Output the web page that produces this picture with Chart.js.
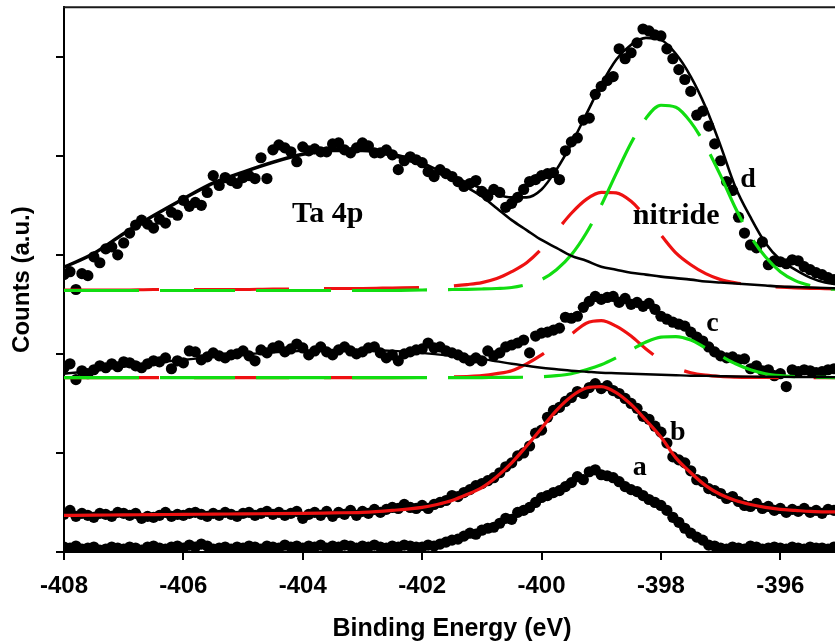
<!DOCTYPE html>
<html>
<head>
<meta charset="utf-8">
<script src="https://cdn.jsdelivr.net/npm/chart.js@4/dist/chart.umd.min.js"></script>
<style>
  html, body { margin: 0; padding: 0; background: #fff; overflow: hidden; }
  canvas { display: block; }
</style>
</head>
<body>
<canvas id="xps" width="850" height="644"></canvas>
<script>
// N 1s spectra (a–d): measured counts on a 0.1 eV grid
const energy = [
  -408.0,-407.9,-407.8,-407.7,-407.6,-407.5,-407.4,-407.3,-407.2,-407.1,
  -407.0,-406.9,-406.8,-406.7,-406.6,-406.5,-406.4,-406.3,-406.2,-406.1,
  -406.0,-405.9,-405.8,-405.7,-405.6,-405.5,-405.4,-405.3,-405.2,-405.1,
  -405.0,-404.9,-404.8,-404.7,-404.6,-404.5,-404.4,-404.3,-404.2,-404.1,
  -404.0,-403.9,-403.8,-403.7,-403.6,-403.5,-403.4,-403.3,-403.2,-403.1,
  -403.0,-402.9,-402.8,-402.7,-402.6,-402.5,-402.4,-402.3,-402.2,-402.1,
  -402.0,-401.9,-401.8,-401.7,-401.6,-401.5,-401.4,-401.3,-401.2,-401.1,
  -401.0,-400.9,-400.8,-400.7,-400.6,-400.5,-400.4,-400.3,-400.2,-400.1,
  -400.0,-399.9,-399.8,-399.7,-399.6,-399.5,-399.4,-399.3,-399.2,-399.1,
  -399.0,-398.9,-398.8,-398.7,-398.6,-398.5,-398.4,-398.3,-398.2,-398.1,
  -398.0,-397.9,-397.8,-397.7,-397.6,-397.5,-397.4,-397.3,-397.2,-397.1,
  -397.0,-396.9,-396.8,-396.7,-396.6,-396.5,-396.4,-396.3,-396.2,-396.1,
  -396.0,-395.9,-395.8,-395.7,-395.6,-395.5,-395.4,-395.3,-395.2,-395.1
];

const countsA = [
  0.05,0.04,0.06,0.03,0.04,0.05,0.02,0.03,0.05,0.04,
  0.03,0.05,0.04,0.02,0.05,0.06,0.04,0.03,0.05,0.06,
  0.04,0.07,0.05,0.08,0.06,0.03,0.04,0.05,0.03,0.05,
  0.04,0.06,0.05,0.03,0.06,0.05,0.04,0.07,0.05,0.06,
  0.04,0.06,0.05,0.07,0.04,0.06,0.05,0.07,0.06,0.04,
  0.06,0.05,0.07,0.05,0.04,0.06,0.05,0.07,0.06,0.05,
  0.05,0.07,0.06,0.08,0.10,0.12,0.13,0.16,0.19,0.18,
  0.22,0.24,0.25,0.29,0.34,0.33,0.40,0.42,0.45,0.50,
  0.55,0.57,0.60,0.62,0.66,0.70,0.76,0.73,0.81,0.83,
  0.78,0.77,0.75,0.71,0.66,0.63,0.61,0.57,0.53,0.50,
  0.47,0.42,0.35,0.30,0.24,0.19,0.15,0.12,0.07,0.06,
  0.04,0.03,0.05,0.04,0.03,0.06,0.05,0.03,0.04,0.05,
  0.04,0.03,0.05,0.04,0.03,0.05,0.04,0.04,0.03,0.05
];

const countsB = [
  0.38,0.42,0.36,0.39,0.37,0.35,0.39,0.38,0.36,0.40,
  0.39,0.37,0.39,0.34,0.36,0.35,0.37,0.40,0.36,0.38,
  0.37,0.39,0.40,0.38,0.36,0.39,0.37,0.40,0.38,0.36,
  0.39,0.40,0.37,0.39,0.41,0.38,0.40,0.37,0.39,0.41,
  0.34,0.38,0.40,0.37,0.41,0.36,0.40,0.38,0.42,0.37,
  0.41,0.39,0.43,0.40,0.43,0.45,0.44,0.48,0.45,0.44,
  0.47,0.44,0.48,0.50,0.52,0.57,0.56,0.60,0.63,0.67,
  0.69,0.72,0.75,0.80,0.86,0.90,0.97,1.00,1.07,1.20,
  1.23,1.36,1.43,1.46,1.52,1.56,1.62,1.60,1.66,1.70,
  1.65,1.68,1.63,1.60,1.55,1.50,1.45,1.37,1.34,1.27,
  1.21,1.10,0.96,0.93,0.90,0.82,0.73,0.71,0.64,0.62,
  0.59,0.54,0.56,0.51,0.47,0.46,0.49,0.44,0.46,0.42,
  0.44,0.40,0.43,0.41,0.44,0.40,0.42,0.39,0.43,0.42
];

const countsC = [
  1.86,1.90,1.74,1.83,1.80,1.84,1.88,1.86,1.90,1.87,
  1.92,1.91,1.88,1.86,1.90,1.93,1.92,1.96,1.85,1.93,
  1.91,2.03,2.02,1.94,1.97,2.01,1.98,1.96,1.99,2.00,
  2.03,1.98,1.93,2.04,2.01,2.06,2.08,2.02,2.05,2.10,
  2.06,1.99,2.03,2.07,2.02,1.99,2.04,2.07,2.03,2.00,
  2.02,2.06,2.07,2.01,1.96,1.99,1.93,2.00,2.02,2.04,
  2.05,2.11,2.06,2.07,2.03,2.01,1.99,1.96,1.93,1.96,
  1.93,2.03,1.98,2.01,2.07,2.09,2.11,2.14,2.01,2.18,
  2.21,2.22,2.24,2.26,2.37,2.36,2.38,2.47,2.53,2.58,
  2.55,2.57,2.58,2.52,2.56,2.50,2.52,2.48,2.51,2.45,
  2.38,2.35,2.32,2.30,2.28,2.22,2.17,2.13,2.07,2.02,
  1.98,1.96,1.97,1.94,1.95,1.85,1.88,1.83,1.84,1.78,
  1.80,1.67,1.84,1.82,1.84,1.83,1.81,1.82,1.84,1.85
];

const countsD = [
  2.80,2.83,2.65,2.81,2.79,2.98,2.92,3.06,3.08,3.00,
  3.12,3.22,3.30,3.35,3.31,3.27,3.36,3.32,3.43,3.40,
  3.55,3.49,3.53,3.50,3.63,3.80,3.70,3.78,3.75,3.72,
  3.78,3.80,3.77,3.98,3.77,4.06,4.11,4.08,4.04,3.94,
  4.09,4.05,4.07,4.04,4.04,4.12,4.13,4.06,4.03,4.08,
  4.13,4.10,4.03,4.03,4.06,4.01,3.86,3.95,3.99,3.96,
  3.93,3.84,3.79,3.86,3.82,3.79,3.74,3.69,3.72,3.75,
  3.64,3.59,3.66,3.63,3.48,3.52,3.58,3.66,3.74,3.76,
  3.80,3.82,3.83,3.76,4.05,4.14,4.18,4.36,4.38,4.62,
  4.70,4.76,4.80,5.08,4.98,5.04,5.14,5.28,5.26,5.22,
  5.21,5.08,4.98,4.87,4.77,4.65,4.41,4.45,4.30,4.12,
  3.95,3.74,3.65,3.38,3.22,3.10,3.07,3.13,2.90,2.94,
  2.93,2.91,2.95,2.94,2.88,2.85,2.82,2.80,2.77,2.75
];

// Fitted curves, sampled on a coarser grid
const fitEnergy = [
  -408,-407.5,-407,-406.5,-406,-405.5,-405,-404.5,-404,-403.5,-403,-402.5,
  -402,-401.75,-401.5,-401.25,-401,-400.75,-400.5,-400.25,-400,-399.75,
  -399.5,-399.25,-399,-398.75,-398.5,-398.25,-398,-397.75,-397.5,-397.25,
  -397,-396.75,-396.5,-396.25,-396,-395.75,-395.5,-395.25,-395
];

const fitB = [
  0.37,0.372,0.375,0.377,0.38,0.382,0.385,0.387,0.39,0.395,0.40,0.42,
  0.45,0.48,0.52,0.58,0.65,0.76,0.90,1.07,1.25,1.43,
  1.57,1.655,1.67,1.61,1.49,1.33,1.16,0.95,0.80,0.67,
  0.58,0.52,0.48,0.45,0.43,0.42,0.41,0.405,0.405
];

const taC = [
  1.80,1.83,1.87,1.91,1.94,1.97,1.995,2.015,2.03,2.04,2.04,2.03,
  2.01,1.995,1.98,1.965,1.95,1.925,1.90,1.88,1.86,1.845,
  1.83,1.82,1.81,1.805,1.80,1.795,1.79,1.785,1.78,1.778,
  1.775,1.772,1.77,1.769,1.768,1.767,1.766,1.765,1.765
];
const nitrideC = [
  1.76,1.76,1.76,1.76,1.76,1.76,1.76,1.76,1.76,1.76,1.76,1.76,
  1.762,1.764,1.767,1.772,1.78,1.80,1.83,1.90,1.99,2.10,
  2.20,2.31,2.335,2.28,2.18,2.05,1.94,1.86,1.81,1.785,
  1.772,1.766,1.763,1.762,1.761,1.76,1.76,1.76,1.76
];
const secondC = [
  1.76,1.76,1.76,1.76,1.76,1.76,1.76,1.76,1.76,1.76,1.76,1.76,
  1.76,1.76,1.76,1.76,1.761,1.762,1.763,1.765,1.77,1.78,
  1.80,1.84,1.89,1.96,2.04,2.12,2.17,2.175,2.14,2.06,
  1.98,1.90,1.84,1.80,1.78,1.77,1.765,1.762,1.761
];

const taD = [
  2.87,3.01,3.21,3.39,3.56,3.72,3.83,3.93,4.01,4.05,4.05,4.00,
  3.90,3.83,3.76,3.68,3.59,3.47,3.35,3.25,3.15,3.07,
  2.99,2.94,2.88,2.85,2.82,2.80,2.78,2.765,2.75,2.73,
  2.72,2.71,2.70,2.69,2.68,2.675,2.67,2.665,2.66
];
const envelopeD = [
  2.88,3.02,3.22,3.40,3.57,3.73,3.84,3.94,4.02,4.065,4.07,4.02,
  3.93,3.86,3.80,3.73,3.67,3.61,3.58,3.58,3.66,3.86,
  4.12,4.42,4.72,4.97,5.12,5.19,5.17,5.03,4.80,4.49,
  4.10,3.68,3.38,3.12,2.95,2.85,2.77,2.72,2.70
];
const nitrideD = [
  2.645,2.645,2.645,2.65,2.65,2.65,2.65,2.655,2.655,2.66,2.66,2.665,
  2.67,2.676,2.686,2.70,2.72,2.76,2.83,2.92,3.06,3.24,
  3.42,3.56,3.63,3.625,3.54,3.38,3.20,3.02,2.90,2.81,
  2.75,2.718,2.698,2.684,2.674,2.667,2.662,2.659,2.656
];
const secondD = [
  2.64,2.64,2.64,2.64,2.64,2.64,2.64,2.64,2.64,2.64,2.64,2.64,
  2.645,2.647,2.65,2.652,2.655,2.66,2.67,2.70,2.75,2.85,
  3.00,3.22,3.50,3.82,4.13,4.38,4.51,4.49,4.34,4.10,
  3.80,3.47,3.19,2.98,2.83,2.74,2.69,2.66,2.65
];

const xTicks = [-408, -406, -404, -402, -400, -398, -396];

// Text placed next to the curves (data coordinates)
const curveLabels = [
  { text: 'Ta 4p',   x: -404.18, y: 3.33, size: 30 },
  { text: 'nitride', x: -398.47, y: 3.31, size: 30 },
  { text: 'd',       x: -396.67, y: 3.68, size: 28 },
  { text: 'c',       x: -397.24, y: 2.23, size: 28 },
  { text: 'b',       x: -397.85, y: 1.13, size: 28 },
  { text: 'a',       x: -398.47, y: 0.78, size: 28 }
];

const pairs = (xs, ys) => xs.map((x, i) => ({ x: x, y: ys[i] }));

const RED = '#ee1111';
const GREEN = '#11dd11';

function dots(values) {
  return {
    data: pairs(energy, values), showLine: false,
    pointRadius: 5.6, pointBackgroundColor: '#000', pointBorderWidth: 0,
    order: 5
  };
}
function curve(values, color, width, dash, dashOffset, order) {
  return {
    data: pairs(fitEnergy, values), pointRadius: 0,
    borderColor: color, borderWidth: width,
    borderDash: dash || [], borderDashOffset: dashOffset || 0,
    cubicInterpolationMode: 'monotone', fill: false, order: order
  };
}

const curveText = {
  id: 'curveText',
  afterDatasetsDraw(chart) {
    const { ctx, scales: { x, y } } = chart;
    ctx.save();
    ctx.fillStyle = '#000';
    ctx.textAlign = 'left';
    ctx.textBaseline = 'alphabetic';
    curveLabels.forEach(l => {
      ctx.font = 'bold ' + l.size + 'px "Liberation Serif", "Times New Roman", serif';
      ctx.fillText(l.text, x.getPixelForValue(l.x), y.getPixelForValue(l.y));
    });
    ctx.restore();
  }
};

const frame = {
  id: 'frame',
  afterDraw(chart) {
    const { ctx, chartArea: a } = chart;
    ctx.save();
    ctx.strokeStyle = '#1a1a1a';
    ctx.lineWidth = 2;
    ctx.beginPath();
    ctx.moveTo(a.left - 1, a.top);
    ctx.lineTo(a.right, a.top);
    ctx.lineTo(a.right, a.bottom);
    ctx.stroke();
    ctx.restore();
  }
};

const axisFont = { family: '"Liberation Sans", Arial, sans-serif', weight: 'bold' };

new Chart(document.getElementById('xps'), {
  type: 'line',
  data: {
    datasets: [
      dots(countsA),
      dots(countsB),
      dots(countsC),
      dots(countsD),
      curve(fitB, RED, 3.2, null, 0, 1),
      curve(nitrideC, RED, 3.2, [95, 35], 0, 3),
      curve(secondC, GREEN, 3.2, [75, 21], 0, 2),
      curve(taC, '#000', 2.4, null, 0, 0),
      curve(nitrideD, RED, 3.2, [95, 35], 0, 3),
      curve(secondD, GREEN, 3.2, [75, 21], 0, 2),
      curve(taD, '#000', 2.6, null, 0, 0),
      curve(envelopeD, '#000', 2.6, null, 0, 0)
    ]
  },
  options: {
    responsive: false,
    devicePixelRatio: 1,
    animation: false,
    events: [],
    layout: { padding: { top: 7, right: 10, left: 0, bottom: 0 } },
    plugins: { legend: { display: false }, tooltip: { enabled: false } },
    scales: {
      x: {
        type: 'linear', min: -408, max: -395,
        afterBuildTicks(scale) { scale.ticks = xTicks.map(v => ({ value: v })); },
        ticks: {
          color: '#000', padding: 12, maxRotation: 0, autoSkip: false,
          font: Object.assign({ size: 24 }, axisFont),
          callback: v => String(v)
        },
        grid: { drawOnChartArea: false, drawTicks: true, tickLength: 8, color: '#000', lineWidth: 2 },
        border: { display: true, color: '#000', width: 2 },
        title: {
          display: true, text: 'Binding Energy (eV)', color: '#000',
          font: Object.assign({ size: 25 }, axisFont), padding: { top: 0, bottom: 0 }
        },
        afterFit(scale) { scale.height = 92; }
      },
      y: {
        type: 'linear', min: 0, max: 5.5,
        ticks: { stepSize: 1, includeBounds: false, callback: () => '', padding: 0 },
        grid: { drawOnChartArea: false, drawTicks: true, tickLength: 8, color: '#000', lineWidth: 2 },
        border: { display: true, color: '#000', width: 2 },
        title: {
          display: true, text: 'Counts (a.u.)', color: '#000',
          font: Object.assign({ size: 24 }, axisFont), padding: { top: 8, bottom: 0 }
        },
        afterFit(scale) { scale.width = 64; }
      }
    }
  },
  plugins: [curveText, frame]
});
</script>
</body>
</html>
